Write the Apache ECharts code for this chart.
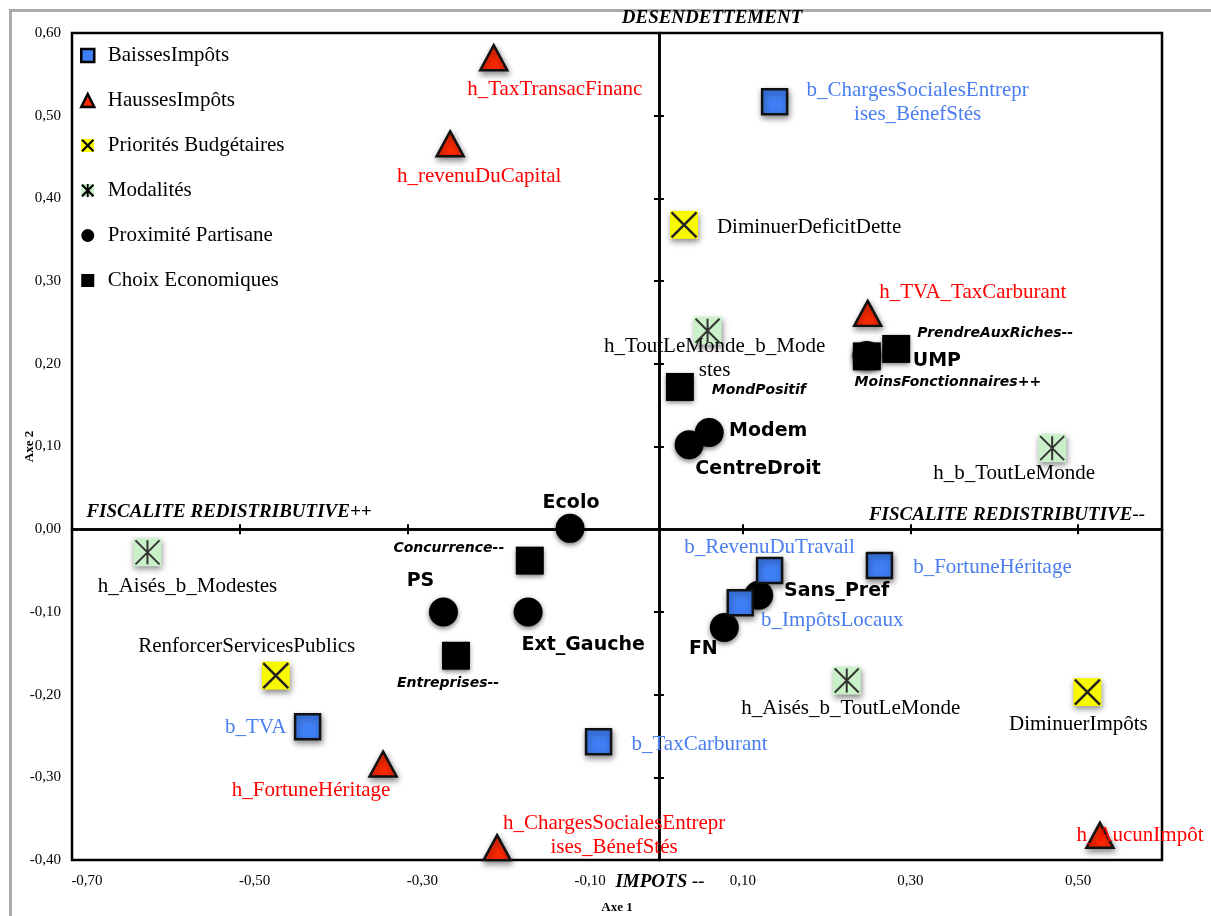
<!DOCTYPE html>
<html><head><meta charset="utf-8">
<script src="https://cdn.jsdelivr.net/npm/echarts@6/dist/echarts.min.js"></script>
<style>
html,body{margin:0;padding:0;background:#fff;overflow:hidden;width:1211px;height:916px;}
#frame{position:absolute;left:9px;top:9px;width:1300px;height:1000px;border-left:3px solid #ababab;border-top:3px solid #ababab;}
#chart{position:absolute;left:0;top:0;width:1211px;height:916px;}
</style></head><body>
<div id="frame"></div><div id="chart"></div>
<script>
// ---- data ----
const xTickMin = -0.7, xTickMax = 0.6, xTickStep = 0.2;
const yTickMin = -0.4, yTickMax = 0.6, yTickStep = 0.1;

const baisseNames = ['b_ChargesSocialesEntreprises_BénefStés','b_RevenuDuTravail','b_FortuneHéritage','b_ImpôtsLocaux','b_TVA','b_TaxCarburant'];
const baisseX = [0.138, 0.132, 0.263, 0.097, -0.419, -0.072];
const baisseY = [0.517, -0.050, -0.044, -0.089, -0.239, -0.257];

const hausseNames = ['h_TaxTransacFinanc','h_revenuDuCapital','h_TVA_TaxCarburant','h_FortuneHéritage','h_ChargesSocialesEntreprises_BénefStés','h_AucunImpôt'];
const hausseX = [-0.197, -0.249, 0.249, -0.329, -0.193, 0.526];
const hausseY = [0.570, 0.466, 0.261, -0.284, -0.385, -0.370];

const prioNames = ['DiminuerDeficitDette','RenforcerServicesPublics','DiminuerImpôts'];
const prioX = [0.030, -0.457, 0.511];
const prioY = [0.368, -0.177, -0.197];

const modaNames = ['h_ToutLeMonde_b_Modestes','h_b_ToutLeMonde','h_Aisés_b_Modestes','h_Aisés_b_ToutLeMonde'];
const modaX = [0.058, 0.469, -0.610, 0.224];
const modaY = [0.240, 0.098, -0.028, -0.183];

const partiNames = ['Modem','CentreDroit','UMP','Ecolo','PS','Ext_Gauche','Sans_Pref','FN'];
const partiX = [0.060, 0.036, 0.248, -0.106, -0.257, -0.156, 0.119, 0.078];
const partiY = [0.117, 0.102, 0.210, 0.001, -0.100, -0.100, -0.080, -0.119];

const choixNames = ['MondPositif','PrendreAuxRiches--','MoinsFonctionnaires++','Concurrence--','Entreprises--'];
const choixX = [0.025, 0.283, 0.248, -0.154, -0.242];
const choixY = [0.172, 0.218, 0.209, -0.038, -0.153];

const seriesNames = ['BaissesImpôts','HaussesImpôts','Priorités Budgétaires','Modalités','Proximité Partisane','Choix Economiques'];
const quadrantTitles = ['DESENDETTEMENT','FISCALITE REDISTRIBUTIVE++','FISCALITE REDISTRIBUTIVE--','IMPOTS --'];
const axisNames = ['Axe 1','Axe 2'];

// ---- label placement (style) ----
const LABEL_OFFSET = {
  'b_ChargesSocialesEntreprises_BénefStés':[143,1],'b_RevenuDuTravail':[0,-23],'b_FortuneHéritage':[113,2],
  'b_ImpôtsLocaux':[92,18],'b_TVA':[-52,1],'b_TaxCarburant':[101,3],
  'h_TaxTransacFinanc':[61,32],'h_revenuDuCapital':[29,33],'h_TVA_TaxCarburant':[105,-21],
  'h_FortuneHéritage':[-72,26],'h_ChargesSocialesEntreprises_BénefStés':[117,-12],'h_AucunImpôt':[40,0],
  'DiminuerDeficitDette':[125,3],'RenforcerServicesPublics':[-29,-29],'DiminuerImpôts':[-9,32],
  'h_ToutLeMonde_b_Modestes':[7,28],'h_b_ToutLeMonde':[-38,25],'h_Aisés_b_Modestes':[40,34],'h_Aisés_b_ToutLeMonde':[4,28],
  'Modem':[59,-1],'CentreDroit':[69,24],'UMP':[70,6],'Ecolo':[1,-25],'PS':[-23,-31],'Ext_Gauche':[55,33],'Sans_Pref':[78,-4],'FN':[-21,21],
  'MondPositif':[79,3],'PrendreAuxRiches--':[99,-16],'MoinsFonctionnaires++':[81,26],'Concurrence--':[-81,-12],'Entreprises--':[-8,28]
};
const WRAP = {'b_ChargesSocialesEntreprises_BénefStés':24,'h_ChargesSocialesEntreprises_BénefStés':24,'h_ToutLeMonde_b_Modestes':20};

function pts(names, xs, ys, withLabel){
  return names.map((n,i)=>{
    const d = {name:n, value:[xs[i], ys[i]]};
    if (withLabel) d.label = {offset: LABEL_OFFSET[n] || [0,0]};
    return d;
  });
}
function labelText(p){
  const w = WRAP[p.name];
  return w ? p.name.slice(0,w) + '\n' + p.name.slice(w) : p.name;
}
const SERIF = 'Liberation Serif';
const SANS = 'DejaVu Sans';
const shadow = {opacity:1, shadowBlur:6, shadowColor:'rgba(0,0,0,0.45)', shadowOffsetX:1, shadowOffsetY:3};
const darkShadow = {opacity:1, shadowBlur:5, shadowColor:'rgba(0,0,0,0.55)', shadowOffsetY:2};
const noShadow = {shadowBlur:0, shadowOffsetY:0, shadowOffsetX:0};
function serifLabel(color){
  return {show:true, position:'inside', align:'center', verticalAlign:'middle', formatter:labelText,
    fontFamily:SERIF, fontSize:21, lineHeight:24, color:color, textBorderWidth:0};
}
const fmt = v => (Math.abs(v) < 1e-9 ? 0 : v).toFixed(2).replace('.', ',');

const X_PATH = 'path://M0,0L20,20M20,0L0,20';
const AST_PATH = 'path://M0,0L20,20M20,0L0,20M10,0L10,20';
const X_ICON = 'path://M0,1.2L1.2,0L10,8.8L8.8,10Z M8.8,0L10,1.2L1.2,10L0,8.8Z';
const AST_ICON = 'path://M0,1.2L1.2,0L10,8.8L8.8,10Z M8.8,0L10,1.2L1.2,10L0,8.8Z M4.3,0L5.7,0L5.7,10L4.3,10Z';
const SQ_ICON = 'path://M0,0L10,0L10,10L0,10Z';
const TRI_ICON = 'path://M5,0L10,10L0,10Z';
const CIRC_ICON = 'path://M5,0A5,5,0,1,1,5,10A5,5,0,1,1,5,0Z';

const zeroAxisX = (pos, idx) => ({type:'value', min:xTickMin, max:xTickMax, interval:xTickStep, position:pos,
  axisLine:{show:true, onZero:true, onZeroAxisIndex:idx, lineStyle:{color:'#000', width:2.5}},
  axisTick:{show:true, inside:false, length:5, lineStyle:{color:'#000', width:2}},
  axisLabel:{show:false}, splitLine:{show:false}});
const zeroAxisY = (pos, idx) => ({type:'value', min:yTickMin, max:yTickMax, interval:yTickStep, position:pos,
  axisLine:{show:true, onZero:true, onZeroAxisIndex:idx, lineStyle:{color:'#000', width:2.5}},
  axisTick:{show:true, inside:false, length:5, lineStyle:{color:'#000', width:2}},
  axisLabel:{show:false}, splitLine:{show:false}});

// legend layout (style)
const LEG_TOP = 40, LEG_STEP = 45, LEG_ICON_CX = 87.5;
const legIconBg = (i, color) => ({type:'rect', z:1,
  shape:{x:LEG_ICON_CX - 6.5, y:LEG_TOP + 5 + 10.5 + i * LEG_STEP - 6.5, width:13, height:13},
  style:{fill:color}});

const chart = echarts.init(document.getElementById('chart'), null, {renderer:'canvas'});
chart.setOption({
  animation:false,
  backgroundColor:'transparent',
  grid:{left:72, right:49, top:33, bottom:56, show:true, borderColor:'#000', borderWidth:2.5,
    backgroundColor:'transparent', containLabel:false, outerBoundsMode:'none'},
  legend:{
    left:75, top:LEG_TOP, orient:'vertical', itemGap:24, itemWidth:30, itemHeight:13, selectedMode:false, z:10,
    textStyle:{fontFamily:SERIF, fontSize:21, lineHeight:21, color:'#000'},
    data:[
      {name:seriesNames[0], icon:SQ_ICON, itemStyle:Object.assign({borderWidth:2.5, borderColor:'#000'}, noShadow)},
      {name:seriesNames[1], icon:TRI_ICON, itemStyle:Object.assign({borderWidth:2.5, borderColor:'#000'}, noShadow)},
      {name:seriesNames[2], icon:X_ICON, itemStyle:Object.assign({color:'#000', borderWidth:0}, noShadow)},
      {name:seriesNames[3], icon:AST_ICON, itemStyle:Object.assign({color:'#000', borderWidth:0}, noShadow)},
      {name:seriesNames[4], icon:CIRC_ICON, itemStyle:noShadow},
      {name:seriesNames[5], icon:SQ_ICON, itemStyle:noShadow}
    ]
  },
  xAxis:[
    {type:'value', min:xTickMin, max:xTickMax, interval:xTickStep, position:'bottom',
      name:axisNames[0], nameLocation:'middle', nameGap:41, nameMoveOverlap:false,
      nameTextStyle:{fontFamily:SERIF, fontWeight:'bold', fontSize:13, color:'#000'},
      axisLine:{show:false, onZero:false}, axisTick:{show:false}, splitLine:{show:false},
      axisLabel:{margin:14, showMaxLabel:false,
        formatter: v => v < 0 ? '{n|' + fmt(v) + '}' : '{p|' + fmt(v) + '}',
        rich:{n:{fontFamily:SERIF, fontSize:15, color:'#000', padding:[0,0,0,30]}, p:{fontFamily:SERIF, fontSize:15, color:'#000'}}}},
    zeroAxisX('bottom', 1), zeroAxisX('top', 2)
  ],
  yAxis:[
    {type:'value', min:yTickMin, max:yTickMax, interval:yTickStep, position:'left',
      name:axisNames[1], nameLocation:'middle', nameGap:36, nameMoveOverlap:false,
      nameTextStyle:{fontFamily:SERIF, fontWeight:'bold', fontSize:13, color:'#000'},
      axisLine:{show:false, onZero:false}, axisTick:{show:false}, splitLine:{show:false},
      axisLabel:{margin:11, formatter:fmt, fontFamily:SERIF, fontSize:15, color:'#000'}},
    zeroAxisY('left', 1), zeroAxisY('right', 2)
  ],
  graphic:[
    legIconBg(2, '#ffff00'),
    legIconBg(3, '#c9f0c9'),
    {type:'text', x:712, y:18, style:{text:quadrantTitles[0], font:'italic bold 19px "Liberation Serif"', fill:'#000', textAlign:'center', textVerticalAlign:'middle'}},
    {type:'text', x:229, y:512, style:{text:quadrantTitles[1], font:'italic bold 19px "Liberation Serif"', fill:'#000', textAlign:'center', textVerticalAlign:'middle'}},
    {type:'text', x:1007, y:515, style:{text:quadrantTitles[2], font:'italic bold 19px "Liberation Serif"', fill:'#000', textAlign:'center', textVerticalAlign:'middle'}},
    {type:'text', x:660, y:882, style:{text:quadrantTitles[3], font:'italic bold 19px "Liberation Serif"', fill:'#000', textAlign:'center', textVerticalAlign:'middle'}}
  ],
  series:[
    {name:seriesNames[4], type:'scatter', symbol:'circle', symbolSize:29, z:3,
      itemStyle:Object.assign({color:'#000'}, darkShadow),
      label:{show:true, position:'inside', align:'center', verticalAlign:'middle', formatter:labelText,
        fontFamily:SANS, fontWeight:'bold', fontSize:19, color:'#000', textBorderWidth:0},
      data:pts(partiNames, partiX, partiY, true)},
    {name:seriesNames[5], type:'scatter', symbol:'rect', symbolSize:28, z:4,
      itemStyle:Object.assign({color:'#000'}, darkShadow),
      label:{show:true, position:'inside', align:'center', verticalAlign:'middle', formatter:labelText,
        fontFamily:SANS, fontWeight:'bold', fontStyle:'italic', fontSize:14, color:'#000', textBorderWidth:0},
      data:pts(choixNames, choixX, choixY, true)},
    {name:seriesNames[0], type:'scatter', symbol:'rect', symbolSize:25, z:4,
      itemStyle:Object.assign({color:'#3f7ff5', borderColor:'#111', borderWidth:2.5}, shadow),
      label:serifLabel('#4a7ef0'),
      data:pts(baisseNames, baisseX, baisseY, true)},
    {name:seriesNames[1], type:'scatter', symbol:'triangle', symbolSize:[27,25], z:4,
      itemStyle:Object.assign({color:'#ff2a00', borderColor:'#111', borderWidth:2.5}, shadow),
      label:serifLabel('#ff0000'),
      data:pts(hausseNames, hausseX, hausseY, true)},
    {name:seriesNames[2], type:'scatter', symbol:'rect', symbolSize:28, z:4,
      itemStyle:Object.assign({color:'#f8f800'}, shadow),
      label:serifLabel('#000'),
      data:pts(prioNames, prioX, prioY, true)},
    {name:'prioGlyph', type:'scatter', symbol:X_PATH, symbolSize:25, z:5, silent:true,
      itemStyle:{opacity:1, color:'transparent', borderColor:'#222', borderWidth:2.5},
      data:pts(prioNames, prioX, prioY, false)},
    {name:seriesNames[3], type:'scatter', symbol:'rect', symbolSize:28, z:4,
      itemStyle:Object.assign({color:'#c9f0c9'}, shadow),
      label:serifLabel('#000'),
      data:pts(modaNames, modaX, modaY, true)},
    {name:'modaGlyph', type:'scatter', symbol:AST_PATH, symbolSize:24, z:5, silent:true,
      itemStyle:{opacity:1, color:'transparent', borderColor:'#333', borderWidth:2},
      data:pts(modaNames, modaX, modaY, false)}
  ]
});
</script></body></html>
